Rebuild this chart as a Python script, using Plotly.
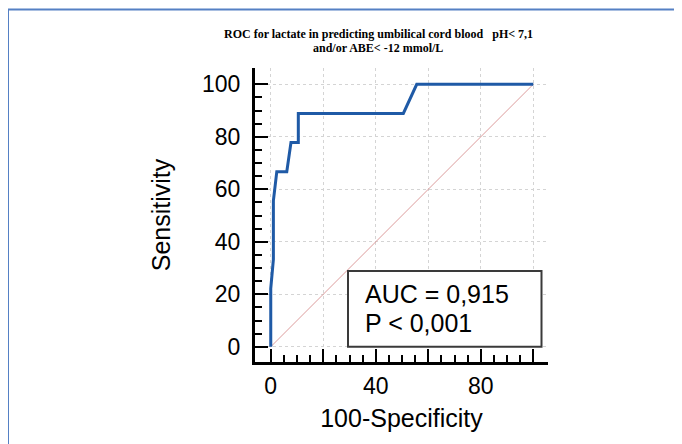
import plotly.graph_objects as go

# Data
fpr = [0, 0, 1.0, 1.0, 2.3, 6.1, 7.7, 10.5, 10.5, 50.5, 55.6, 100]
tpr = [0, 22.2, 33.3, 55.6, 66.7, 66.7, 77.8, 77.8, 88.9, 88.9, 100, 100]
ref_x = [0, 100]
ref_y = [0, 100]
x_ticks = [0, 20, 40, 60, 80, 100]
x_ticktext = ["0", "", "40", "", "80", ""]
y_ticks = [0, 20, 40, 60, 80, 100]
y_ticktext = ["0", "20", "40", "60", "80", "100"]
minor_ticks = [5, 10, 15, 25, 30, 35, 45, 50, 55, 65, 70, 75, 85, 90, 95]
title_line1 = "<b>ROC for lactate in predicting umbilical cord blood\u00a0\u00a0\u00a0pH&lt; 7,1</b>"
title_line2 = "<b>and/or ABE&lt;\u00a0-12 mmol/L</b>"
auc_text = "AUC = 0,915"
p_text = "P &lt; 0,001"

# page body has an 8px margin: work in screen pixels, offset by 8
OFF = 8
W, H = 682 - OFF, 444 - OFF
L, T = 255 - OFF, 68 - OFF
pw, ph = 293, 294
R, B = W - L - pw, H - T - ph

fig = go.Figure()
fig.add_trace(go.Scatter(x=ref_x, y=ref_y, mode="lines",
                         line=dict(color="#dc9c9c", width=1), hoverinfo="skip"))
fig.add_trace(go.Scatter(x=fpr, y=tpr, mode="lines",
                         line=dict(color="#1f5aa6", width=3)))


def px(xs):
    return (xs - OFF - L) / pw


def py(ys):
    return (T + ph - (ys - OFF)) / ph


axis_common = dict(
    showline=True, linecolor="black", linewidth=3,
    ticks="inside", ticklen=13, tickwidth=2, tickcolor="black",
    showgrid=True, gridcolor="#d4d4d4", griddash="dot", gridwidth=1,
    zeroline=False,
    tickfont=dict(family="Liberation Sans, Arial", size=23, color="black"),
    minor=dict(tickmode="array", tickvals=minor_ticks, ticks="inside",
               ticklen=7, tickwidth=2, tickcolor="black", showgrid=False),
)

fig.update_xaxes(range=[-6, 105.6], tickmode="array", tickvals=x_ticks,
                 ticktext=x_ticktext, ticklabelstandoff=1,
                 title=dict(text="100-Specificity", standoff=12,
                            font=dict(family="Liberation Sans, Arial", size=25, color="black")),
                 **axis_common)
fig.update_yaxes(range=[-5.8, 106.2], tickmode="array", tickvals=y_ticks,
                 ticktext=y_ticktext, ticklabelstandoff=7,
                 title=dict(text="Sensitivity", standoff=25,
                            font=dict(family="Liberation Sans, Arial", size=25, color="black")),
                 **axis_common)

fig.add_shape(type="rect", xref="paper", yref="paper",
              x0=px(348), x1=px(541.5), y0=py(346.7), y1=py(271),
              line=dict(color="#3a3a3a", width=2), fillcolor="white", layer="above")
fig.add_annotation(xref="paper", yref="paper", x=px(363), y=py(294),
                   xanchor="left", yanchor="middle", text=auc_text, showarrow=False,
                   font=dict(family="Liberation Sans, Arial", size=25, color="black"))
fig.add_annotation(xref="paper", yref="paper", x=px(363), y=py(323),
                   xanchor="left", yanchor="middle", text=p_text, showarrow=False,
                   font=dict(family="Liberation Sans, Arial", size=25, color="black"))
title_font = dict(family="Liberation Serif, Times New Roman", size=12, color="black")
fig.add_annotation(xref="paper", yref="paper", x=px(378), y=py(34),
                   xanchor="center", yanchor="middle", text=title_line1, showarrow=False,
                   font=title_font)
fig.add_annotation(xref="paper", yref="paper", x=px(378), y=py(48),
                   xanchor="center", yanchor="middle", text=title_line2, showarrow=False,
                   font=title_font)
fig.add_shape(type="rect", xref="paper", yref="paper",
              x0=px(8), x1=px(700), y0=py(460), y1=py(9.5),
              line=dict(color="#5580c4", width=2), fillcolor="rgba(0,0,0,0)", layer="below")

fig.update_layout(width=W, height=H, margin=dict(l=L, r=R, t=T, b=B),
                  paper_bgcolor="white", plot_bgcolor="white", showlegend=False)
fig.write_html("out.html")
